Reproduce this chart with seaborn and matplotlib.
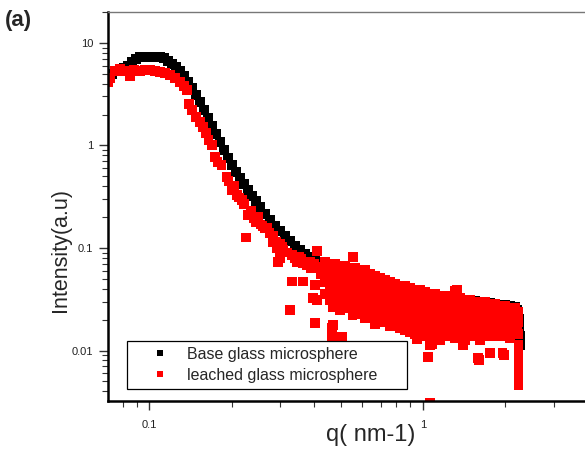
import numpy as np
import pandas as pd
import matplotlib
matplotlib.use("Agg")
import matplotlib.pyplot as plt
import seaborn as sns
from matplotlib.ticker import LogLocator, NullFormatter

# base glass microsphere (black)
black_q = [0.0708, 0.0733, 0.0758, 0.0784, 0.0811, 0.0838, 0.0867, 0.0897, 0.0927, 0.0959,
           0.0992, 0.1025, 0.106, 0.1097, 0.1134, 0.1173, 0.1213, 0.1255, 0.1298, 0.1342,
           0.1388, 0.1436, 0.1484, 0.1535, 0.1588, 0.1642, 0.1698, 0.1756, 0.1816, 0.1878,
           0.1943, 0.2009, 0.2078, 0.2149, 0.2222, 0.2298, 0.2377, 0.2458, 0.2542, 0.2651,
           0.2765, 0.2884, 0.3007, 0.3136, 0.3271, 0.3411, 0.3557, 0.371, 0.3869, 0.4035,
           0.4208, 0.4388, 0.4576, 0.4773, 0.4978, 0.5192, 0.5414, 0.5647, 0.5889, 0.6141,
           0.6405, 0.668, 0.6967, 0.7265, 0.7577, 0.7902, 0.8241, 0.8594, 0.8963, 0.935,
           0.975, 1.017, 1.06, 1.106, 1.153, 1.203, 1.254, 1.308, 1.365, 1.423,
           1.484, 1.548, 1.614, 1.684, 1.756, 1.831, 1.91, 1.992, 2.077, 2.166,
           2.21, 2.24, 2.25, 2.26, 2.26]
black_i = [4.35, 4.98, 5.33, 5.45, 5.71, 5.97, 6.53, 6.98, 7.3, 7.3,
           7.3, 7.3, 7.3, 7.25, 7.14, 6.67, 6.24, 5.84, 5.33, 4.76,
           4.16, 3.64, 3.11, 2.66, 2.22, 1.86, 1.55, 1.29, 1.08, 0.904,
           0.755, 0.645, 0.551, 0.481, 0.42, 0.368, 0.322, 0.288, 0.252, 0.215,
           0.188, 0.164, 0.147, 0.131, 0.117, 0.105, 0.0955, 0.0874, 0.0818, 0.0764,
           0.0714, 0.0683, 0.0668, 0.0653, 0.0668, 0.0638, 0.061, 0.0596, 0.0583, 0.057,
           0.0545, 0.052, 0.0498, 0.0476, 0.0455, 0.0436, 0.0426, 0.0416, 0.0407, 0.0389,
           0.038, 0.0364, 0.0356, 0.0348, 0.034, 0.034, 0.0332, 0.0325, 0.0318, 0.0311,
           0.0311, 0.0304, 0.0297, 0.0297, 0.029, 0.0284, 0.0278, 0.0278, 0.0271, 0.0265,
           0.0248, 0.0204, 0.0174, 0.0139, 0.0112]

# leached glass microsphere (red) - low q part and the decay
red_q_low = [0.0712, 0.0721, 0.0752, 0.0784, 0.0817, 0.0852, 0.088, 0.0927, 0.0967, 0.1008,
             0.1051, 0.1097, 0.1144, 0.1193, 0.1244, 0.1298, 0.1342, 0.1376, 0.14, 0.1436,
             0.1484, 0.1535, 0.157, 0.161, 0.165, 0.1698, 0.174, 0.178, 0.184, 0.192,
             0.195, 0.2, 0.205, 0.209, 0.213, 0.2185, 0.222, 0.226, 0.2298, 0.235,
             0.2417, 0.2458, 0.25, 0.255, 0.2596, 0.265, 0.2707, 0.275, 0.2825, 0.2836,
             0.285, 0.29, 0.293, 0.2954, 0.3, 0.3007, 0.3071, 0.31, 0.32, 0.332,
             0.34, 0.345, 0.3528, 0.36, 0.365, 0.375, 0.3869, 0.39, 0.4, 0.41,
             0.42, 0.425, 0.4313]
red_i_low = [4.1, 4.56, 5.33, 5.58, 5.33, 4.77, 5.45, 5.33, 5.45, 5.45,
             5.33, 5.21, 5.1, 4.87, 4.56, 4.16, 3.8, 3.48, 2.54, 2.22,
             1.9, 1.7, 1.51, 1.32, 1.13, 1.01, 0.773, 0.69, 0.645, 0.493,
             0.45, 0.368, 0.4, 0.329, 0.31, 0.294, 0.27, 0.127, 0.21, 0.23,
             0.197, 0.18, 0.2, 0.17, 0.164, 0.155, 0.157, 0.14, 0.12, 0.114,
             0.13, 0.115, 0.1, 0.073, 0.11, 0.08, 0.102, 0.095, 0.09, 0.0855,
             0.08, 0.072, 0.082, 0.078, 0.0714, 0.068, 0.073, 0.063, 0.07, 0.093,
             0.066, 0.055, 0.0596]

# red - dense high q band, column by column
red_q_high = [0.439, 0.439, 0.439, 0.439,
              0.458, 0.458, 0.458, 0.458,
              0.477, 0.477, 0.477, 0.477,
              0.498, 0.498, 0.498, 0.498, 0.498,
              0.519, 0.519, 0.519, 0.519, 0.519,
              0.541, 0.541, 0.541, 0.541, 0.541,
              0.565, 0.565, 0.565, 0.565, 0.565, 0.565,
              0.589, 0.589, 0.589, 0.589, 0.589,
              0.614, 0.614, 0.614, 0.614, 0.614, 0.614,
              0.641, 0.641, 0.641, 0.641, 0.641,
              0.668, 0.668, 0.668, 0.668, 0.668, 0.668,
              0.697, 0.697, 0.697, 0.697, 0.697,
              0.727, 0.727, 0.727, 0.727, 0.727,
              0.758, 0.758, 0.758, 0.758, 0.758,
              0.79, 0.79, 0.79, 0.79, 0.79,
              0.824, 0.824, 0.824, 0.824, 0.824,
              0.859, 0.859, 0.859, 0.859, 0.859,
              0.896, 0.896, 0.896, 0.896, 0.896,
              0.935, 0.935, 0.935, 0.935, 0.935,
              0.975, 0.975, 0.975, 0.975, 0.975,
              1.017, 1.017, 1.017, 1.017, 1.017,
              1.06, 1.06, 1.06, 1.06, 1.06,
              1.106, 1.106, 1.106, 1.106, 1.106,
              1.153, 1.153, 1.153, 1.153, 1.153,
              1.203, 1.203, 1.203, 1.203, 1.203,
              1.254, 1.254, 1.254, 1.254,
              1.308, 1.308, 1.308, 1.308, 1.308,
              1.365, 1.365, 1.365, 1.365,
              1.423, 1.423, 1.423, 1.423, 1.423,
              1.484, 1.484, 1.484, 1.484,
              1.548, 1.548, 1.548, 1.548,
              1.614, 1.614, 1.614, 1.614, 1.614,
              1.684, 1.684, 1.684, 1.684,
              1.756, 1.756, 1.756, 1.756,
              1.831, 1.831, 1.831, 1.831,
              1.91, 1.91, 1.91, 1.91,
              1.992, 1.992, 1.992, 1.992,
              2.077, 2.077, 2.077, 2.077,
              2.166, 2.166, 2.166, 2.166,
              2.23, 2.23, 2.23, 2.23, 2.23, 2.23, 2.23, 2.23]
red_i_high = [0.073, 0.0583, 0.0466, 0.0356,
              0.0668, 0.0533, 0.0407, 0.0311,
              0.0698, 0.0558, 0.0446, 0.034,
              0.0638, 0.051, 0.0389, 0.0297, 0.0248,
              0.0668, 0.0558, 0.0426, 0.0356, 0.0284,
              0.061, 0.0488, 0.0407, 0.0325, 0.026,
              0.0638, 0.0533, 0.0446, 0.0372, 0.0297, 0.0227,
              0.0583, 0.0466, 0.0389, 0.0311, 0.0237,
              0.061, 0.051, 0.0426, 0.034, 0.0272, 0.0207,
              0.0558, 0.0466, 0.0372, 0.0297, 0.0227,
              0.0533, 0.0446, 0.0356, 0.0284, 0.0217, 0.0181,
              0.051, 0.0407, 0.0325, 0.026, 0.0199,
              0.0488, 0.0389, 0.0311, 0.0248, 0.019,
              0.0466, 0.0372, 0.0297, 0.0237, 0.0173,
              0.0446, 0.0356, 0.0284, 0.0227, 0.0181,
              0.0426, 0.034, 0.0272, 0.0207, 0.0166,
              0.0426, 0.0325, 0.026, 0.0217, 0.0158,
              0.0407, 0.034, 0.0272, 0.0199, 0.0152,
              0.0389, 0.0311, 0.0248, 0.019, 0.0145,
              0.0389, 0.0325, 0.026, 0.0207, 0.0158,
              0.0372, 0.0297, 0.0237, 0.0181, 0.0139,
              0.0356, 0.0284, 0.0227, 0.0173, 0.0132,
              0.0356, 0.0297, 0.0237, 0.019, 0.0145,
              0.034, 0.0272, 0.0217, 0.0166, 0.0126,
              0.034, 0.0284, 0.0227, 0.0181, 0.0139,
              0.0325, 0.026, 0.0207, 0.0158,
              0.034, 0.0272, 0.0217, 0.0173, 0.0132,
              0.0325, 0.026, 0.0199, 0.0152,
              0.0311, 0.0248, 0.0199, 0.0158, 0.0126,
              0.0311, 0.026, 0.0207, 0.0166,
              0.0297, 0.0237, 0.019, 0.0145,
              0.0297, 0.0248, 0.0199, 0.0158, 0.0126,
              0.0297, 0.0237, 0.0181, 0.0145,
              0.0284, 0.0227, 0.0181, 0.0139,
              0.0284, 0.0237, 0.019, 0.0152,
              0.0272, 0.0217, 0.0173, 0.0139,
              0.0272, 0.0227, 0.0181, 0.0152,
              0.026, 0.0207, 0.0166, 0.0132,
              0.026, 0.0217, 0.0173, 0.0145,
              0.0237, 0.019, 0.0145, 0.0113, 0.009, 0.0072, 0.0058, 0.0046]

# red - in-between points that close up the band
red_q_fill = [0.45, 0.49, 0.53, 0.577, 0.627, 0.682, 0.742, 0.807, 0.877, 0.955,
              1.038, 1.13, 1.228, 1.336, 1.453, 1.58, 1.72, 1.87, 2.035, 2.2,
              0.47, 0.553, 0.655, 0.775, 0.915, 1.083, 1.28, 1.517, 1.793, 2.12]
red_i_fill = [0.0498, 0.0455, 0.0365, 0.0416, 0.0318, 0.0396, 0.0268, 0.0303, 0.0232, 0.0285,
              0.0204, 0.0256, 0.0196, 0.0236, 0.0178, 0.0215, 0.0208, 0.0163, 0.0193, 0.0178,
              0.0262, 0.0222, 0.0242, 0.0205, 0.0172, 0.0158, 0.0148, 0.0138, 0.0168, 0.0158]

# red - stray points below / above the band
red_q_out = [0.327, 0.3326, 0.365, 0.397, 0.4035, 0.41, 0.4035, 0.466, 0.468, 0.465,
             0.5, 0.506, 0.555, 0.95, 1.04, 1.06, 1.08, 1.308, 1.33, 1.4,
             1.587, 1.6, 1.756, 1.95, 1.97, 1.06]
red_i_out = [0.0248, 0.047, 0.047, 0.0325, 0.0436, 0.031, 0.0186, 0.0168, 0.0177, 0.0136,
             0.0136, 0.0136, 0.082, 0.013, 0.0086, 0.0113, 0.0115, 0.038, 0.039, 0.0113,
             0.0084, 0.0081, 0.0094, 0.0094, 0.009, 0.0031]

labels = ["Base glass microsphere", "leached glass microsphere"]

red_q = red_q_low + red_q_high + red_q_fill + red_q_out
red_i = red_i_low + red_i_high + red_i_fill + red_i_out
df = pd.DataFrame({
    "q": black_q + red_q,
    "I": black_i + red_i,
    "sample": [labels[0]] * len(black_q) + [labels[1]] * len(red_q),
})

sns.set_style("ticks")
plt.rcParams["font.family"] = ["Liberation Sans", "DejaVu Sans"]

fig = plt.figure(figsize=(5.85, 4.51), dpi=100)
ax = fig.add_axes([0.1846, 0.1109, 0.824, 0.8625])

sns.scatterplot(data=df, x="q", y="I", hue="sample", hue_order=labels,
                palette={labels[0]: "black", labels[1]: "red"},
                marker="s", s=48, linewidth=0, ax=ax)

ax.set_xscale("log")
ax.set_yscale("log")
ax.set_xlim(0.0708, 4.07)
ax.set_ylim(0.00322, 20.0)

ax.set_xticks([0.1, 1])
ax.set_xticklabels(["0.1", "1"])
ax.set_yticks([0.01, 0.1, 1, 10])
ax.set_yticklabels(["0.01", "0.1", "1", "10"])
ax.xaxis.set_minor_locator(LogLocator(base=10, subs=np.arange(2, 10)))
ax.yaxis.set_minor_locator(LogLocator(base=10, subs=np.arange(2, 10)))
ax.xaxis.set_minor_formatter(NullFormatter())
ax.yaxis.set_minor_formatter(NullFormatter())

ax.tick_params(which="major", direction="out", length=6.5, width=1, color="#333333",
               labelsize=8, labelcolor="#222222")
ax.tick_params(which="minor", direction="out", length=4.3, width=0.8, color="#333333")
ax.tick_params(axis="x", which="major", pad=7)
ax.tick_params(axis="y", which="major", pad=4)

for side in ["left", "bottom"]:
    ax.spines[side].set_linewidth(1.8)
    ax.spines[side].set_color("black")
ax.spines["top"].set_color("#777777")
ax.spines["top"].set_linewidth(1.0)
ax.spines["right"].set_visible(False)

ax.set_xlabel("q( nm-1)", fontsize=17)
ax.set_ylabel("Intensity(a.u)", fontsize=15.5)
ax.xaxis.set_label_coords(0.546, -0.058)
ax.yaxis.set_label_coords(-0.077, 0.388)

handles, labs = ax.get_legend_handles_labels()
leg = ax.legend(handles, labs, loc="lower left", bbox_to_anchor=(0.039, 0.031, 0.581, 0.13),
                mode="expand", fontsize=11.5, frameon=True, fancybox=False, framealpha=1,
                edgecolor="black", borderpad=0.4, labelspacing=0.35, handlelength=3.4,
                handletextpad=0.0, markerscale=0.55, borderaxespad=0)
leg.get_frame().set_linewidth(0.9)

fig.text(0.008, 0.978, "(a)", fontsize=16, fontweight="bold", va="top", ha="left")

fig.savefig("out.png", dpi=100)
